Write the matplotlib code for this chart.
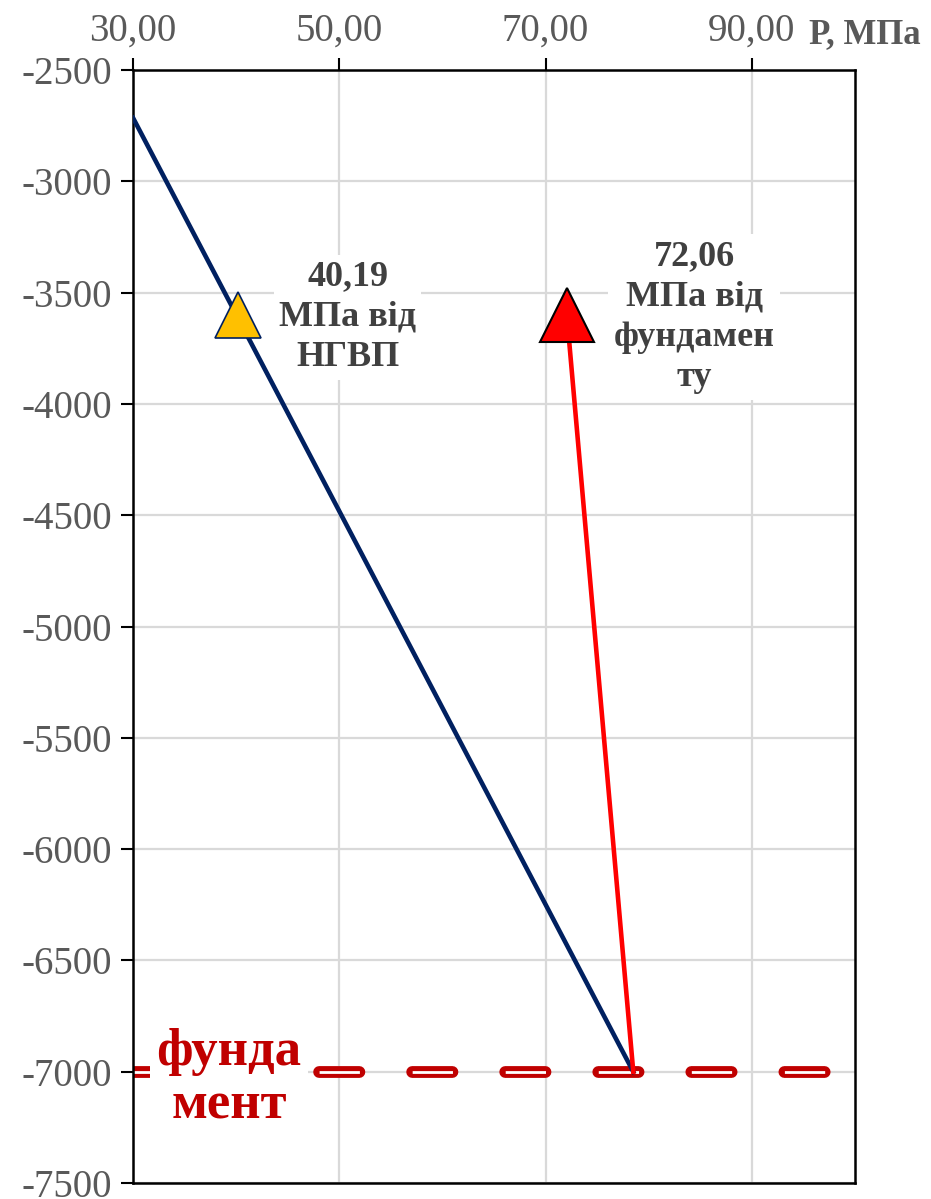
import matplotlib.pyplot as plt
from matplotlib.ticker import FuncFormatter

plt.rcParams['font.family'] = ['Liberation Serif', 'DejaVu Serif']
plt.rcParams['lines.scale_dashes'] = False

# hydrostatic line (P vs depth)
hydro_p = [30.0, 78.5]
hydro_depth = [-2715, -7000]

# line from foundation point up to the 72,06 MPa marker
found_p = [72.06, 78.5]
found_depth = [-3600, -7000]

# markers
nhvp_p, nhvp_depth = 40.19, -3600
top_p, top_depth = 72.06, -3600

foundation_depth = -7000
x_ticks = [30, 50, 70, 90]
y_ticks = list(range(-7500, -2499, 500))

grey = '#595959'
label_grey = '#404040'
dark_red = '#C00000'

fig = plt.figure(figsize=(9.31, 11.99), dpi=100)
ax = fig.add_axes([0.1429, 0.0133, 0.9184 - 0.1429, 0.9416 - 0.0133])

ax.set_xlim(30, 100)
ax.set_ylim(-7500, -2500)

# grid
ax.set_yticks(y_ticks)
ax.set_xticks(x_ticks)
ax.grid(True, color='#D9D9D9', lw=1.6, zorder=0)
ax.set_axisbelow(True)

# foundation line: thick red dashes with a thin white core
fx = [30, 100]
fy = [foundation_depth, foundation_depth]
ax.plot(fx, fy, color=dark_red, lw=8.5, dashes=(29, 38), dash_capstyle='round', zorder=2)
ax.plot(fx, fy, color='white', lw=2, dashes=(29, 38), dash_capstyle='butt', zorder=2.1)

ax.plot(hydro_p, hydro_depth, color='#002060', lw=3.3, zorder=3)
ax.plot(found_p, found_depth, color='#FF0000', lw=3.3, zorder=3)

ax.plot([nhvp_p], [nhvp_depth], marker='^', ms=33, color='#FFC000',
        markeredgecolor='#002060', markeredgewidth=1.2, zorder=5)
ax.plot([top_p], [top_depth], marker='^', ms=39, color='#FF0000',
        markeredgecolor='black', markeredgewidth=1.5, zorder=5)

box = dict(facecolor='white', edgecolor='none', pad=4)
ax.text(50.8, -3610, '40,19\nМПа від\nНГВП', ha='center', va='center',
        fontsize=26, fontweight='bold', color=label_grey, linespacing=1.3,
        bbox=box, zorder=4)
ax.text(84.4, -3610, '72,06\nМПа від\nфундамен\nту', ha='center', va='center',
        fontsize=26, fontweight='bold', color=label_grey, linespacing=1.3,
        bbox=box, zorder=4)
ax.text(39.3, -7030, 'фунда\nмент', ha='center', va='center',
        fontsize=38, fontweight='bold', color=dark_red, linespacing=1.15,
        bbox=dict(facecolor='white', edgecolor='none', pad=5), zorder=4)

# axes styling
ax.xaxis.tick_top()
ax.xaxis.set_major_formatter(FuncFormatter(lambda v, pos: f'{v:.2f}'.replace('.', ',')))
ax.yaxis.set_major_formatter(FuncFormatter(lambda v, pos: f'{int(v)}'))
ax.tick_params(axis='both', direction='out', length=9, width=1.5, color='black',
               labelsize=28, labelcolor=grey, pad=6)
for s in ax.spines.values():
    s.set_color('black')
    s.set_linewidth(1.8)

fig.text(865 / 931, 1 - 35 / 1199, 'Р, МПа', ha='center', va='center',
         fontsize=25, fontweight='bold', color=grey)

fig.savefig('out.png', dpi=100)
